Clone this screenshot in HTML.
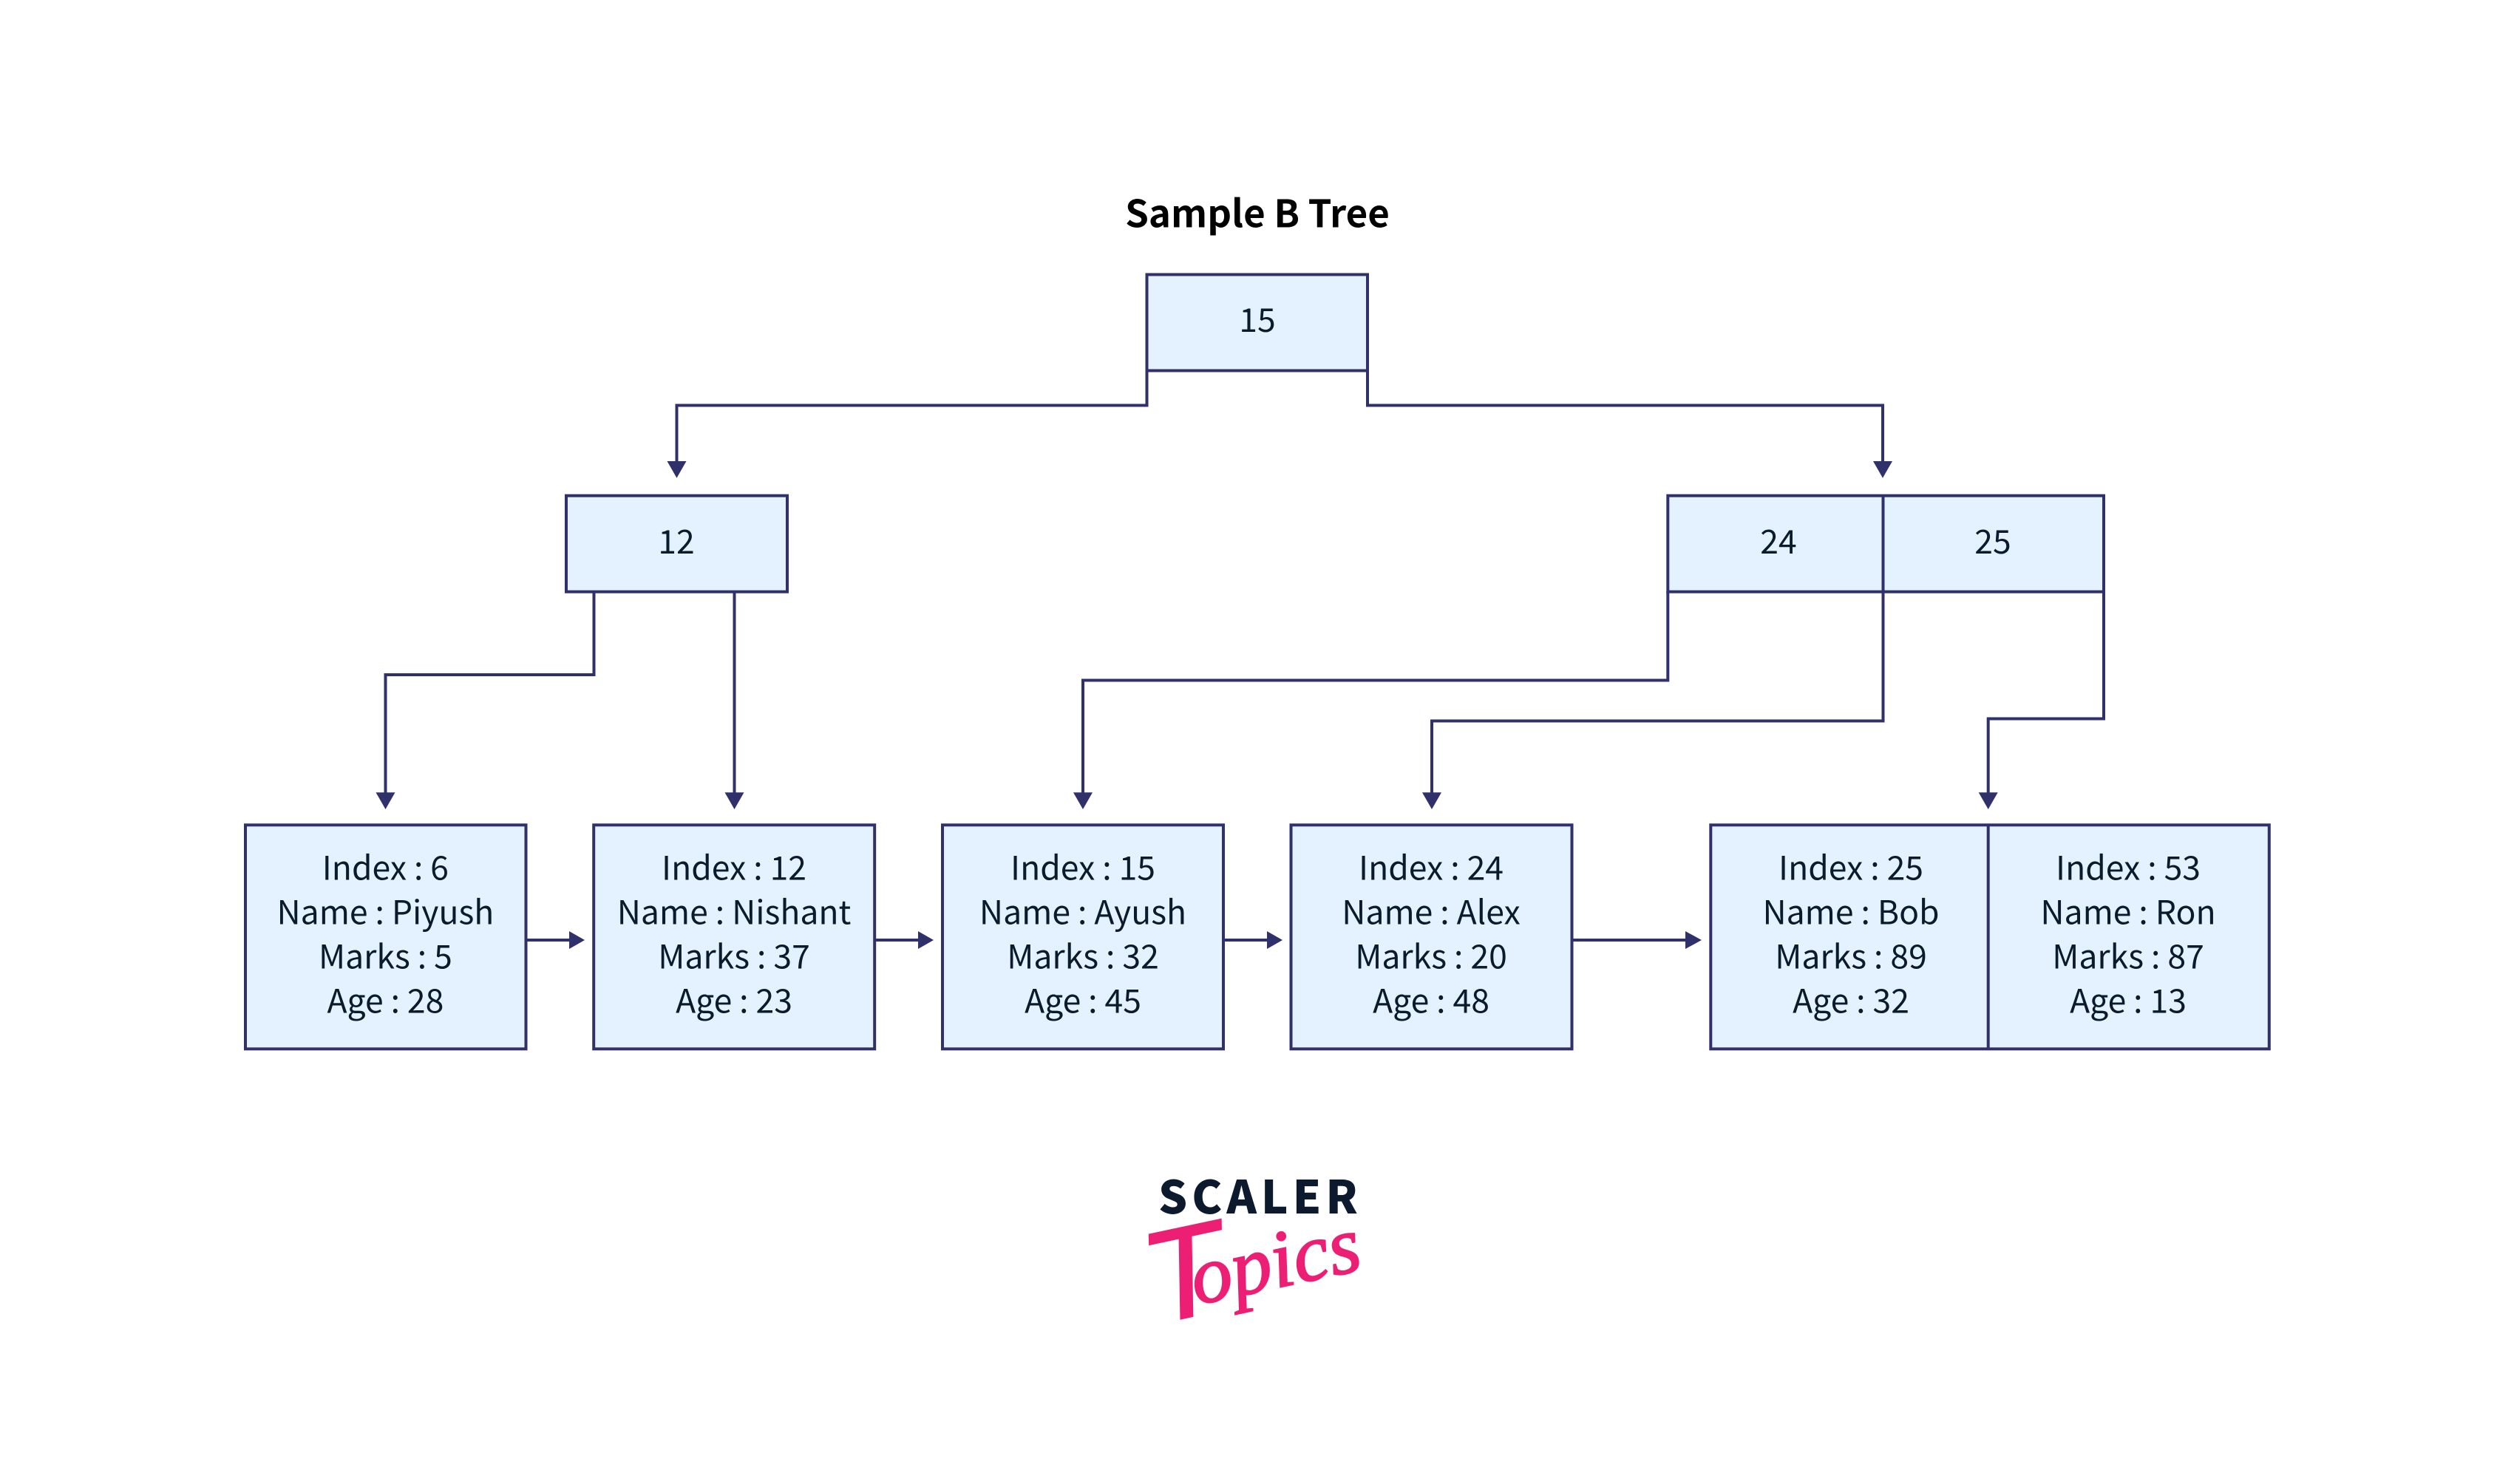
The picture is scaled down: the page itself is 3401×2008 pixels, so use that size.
<!DOCTYPE html>
<html><head><meta charset="utf-8"><style>
html,body{margin:0;padding:0;background:#fff;width:3401px;height:2008px;overflow:hidden}
svg{display:block}
text{font-family:"Noto Sans CJK SC","Liberation Sans",sans-serif;text-anchor:middle}
.t{font-size:44.5px;fill:#0a1c2c}
.b{fill:#e3f2fe;stroke:#30316a;stroke-width:4}
.l{fill:none;stroke:#30316a;stroke-width:4}
.a{fill:#30316a}
</style></head><body>
<svg width="3401" height="2008" viewBox="0 0 3401 2008" xmlns="http://www.w3.org/2000/svg">
<rect width="3401" height="2008" fill="#fff"/>
<text x="1701" y="307.5" font-size="51" font-weight="700" fill="#000">Sample B Tree</text>
<!-- connectors -->
<path class="l" d="M1551.5 501V548.5H915.5V630"/>
<path class="a" d="M902.5 624H928.5L915.5 646.7Z"/>
<path class="l" d="M1850 501V548.5H2547V630"/>
<path class="a" d="M2534 624H2560L2547 646.7Z"/>
<path class="l" d="M803.5 800V913H521.5V1080"/>
<path class="a" d="M508.5 1072.3H534.5L521.5 1095Z"/>
<path class="l" d="M993.5 800V1080"/>
<path class="a" d="M980.5 1072.3H1006.5L993.5 1095Z"/>
<path class="l" d="M2256.3 800V920.5H1465V1080"/>
<path class="a" d="M1452 1072.3H1478L1465 1095Z"/>
<path class="l" d="M2547.5 800V975.5H1937V1080"/>
<path class="a" d="M1924 1072.3H1950L1937 1095Z"/>
<path class="l" d="M2846 800V972.5H2689.7V1080"/>
<path class="a" d="M2676.7 1072.3H2702.7L2689.7 1095Z"/>
<path class="l" d="M711 1272H775"/><path class="a" d="M770 1260L791 1272L770 1284Z"/>
<path class="l" d="M1183 1272H1247"/><path class="a" d="M1242 1260L1263 1272L1242 1284Z"/>
<path class="l" d="M1655 1272H1719"/><path class="a" d="M1714 1260L1735 1272L1714 1284Z"/>
<path class="l" d="M2126 1272H2285"/><path class="a" d="M2280 1260L2302 1272L2280 1284Z"/>
<!-- internal nodes -->
<rect class="b" x="1551.5" y="371.5" width="298.5" height="130"/>
<text class="t" x="1701" y="449">15</text>
<rect class="b" x="766" y="670.7" width="299" height="130"/>
<text class="t" x="915" y="749">12</text>
<rect class="b" x="2256.3" y="670.7" width="589.7" height="130"/>
<path class="l" d="M2547.5 670.7V800.7"/>
<text class="t" x="2406" y="749">24</text>
<text class="t" x="2696" y="749">25</text>
<!-- leaves -->
<rect class="b" x="332" y="1116.3" width="379.5" height="303"/>
<rect class="b" x="803.2" y="1116.3" width="380" height="303"/>
<rect class="b" x="1275" y="1116.3" width="380" height="303"/>
<rect class="b" x="1746.5" y="1116.3" width="380" height="303"/>
<rect class="b" x="2314.3" y="1116.3" width="755.5" height="303"/>
<path class="l" d="M2689.7 1116.3V1419.3"/>
<g>
<text class="t" x="521.4" y="1190.7">Index : 6</text><text class="t" x="521.4" y="1250.7">Name : Piyush</text><text class="t" x="521.4" y="1310.7">Marks : 5</text><text class="t" x="521.4" y="1370.7">Age : 28</text>
<text class="t" x="993" y="1190.7">Index : 12</text><text class="t" x="993" y="1250.7">Name : Nishant</text><text class="t" x="993" y="1310.7">Marks : 37</text><text class="t" x="993" y="1370.7">Age : 23</text>
<text class="t" x="1465" y="1190.7">Index : 15</text><text class="t" x="1465" y="1250.7">Name : Ayush</text><text class="t" x="1465" y="1310.7">Marks : 32</text><text class="t" x="1465" y="1370.7">Age : 45</text>
<text class="t" x="1936" y="1190.7">Index : 24</text><text class="t" x="1936" y="1250.7">Name : Alex</text><text class="t" x="1936" y="1310.7">Marks : 20</text><text class="t" x="1936" y="1370.7">Age : 48</text>
<text class="t" x="2504" y="1190.7">Index : 25</text><text class="t" x="2504" y="1250.7">Name : Bob</text><text class="t" x="2504" y="1310.7">Marks : 89</text><text class="t" x="2504" y="1370.7">Age : 32</text>
<text class="t" x="2879" y="1190.7">Index : 53</text><text class="t" x="2879" y="1250.7">Name : Ron</text><text class="t" x="2879" y="1310.7">Marks : 87</text><text class="t" x="2879" y="1370.7">Age : 13</text>
</g>
<!-- logo -->
<text x="1705" y="1642" font-size="61.5" font-weight="900" letter-spacing="6" fill="#0d1a2e">SCALER</text>
<g transform="translate(1562 1792) rotate(-12)">
<text x="0" y="0" style="text-anchor:start" fill="#ec1f74" stroke="#ec1f74" stroke-width="2"><tspan font-size="175" font-style="italic" style="font-family:'Liberation Sans',sans-serif">T</tspan><tspan font-size="110" font-style="italic" dx="-46" dy="-14" style="font-family:'Liberation Serif',serif">opics</tspan></text>
</g>
</svg>
</body></html>
